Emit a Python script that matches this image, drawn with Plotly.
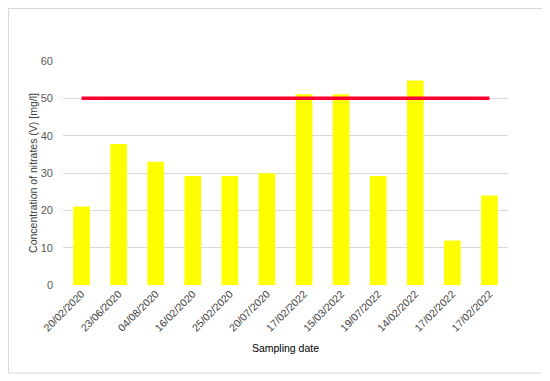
import plotly.graph_objects as go

dates = ["20/02/2020", "23/06/2020", "04/08/2020", "16/02/2020", "25/02/2020", "20/07/2020",
         "17/02/2022", "15/03/2022", "19/07/2022", "14/02/2022", "17/02/2022", "17/02/2022"]
nitrates = [21, 37.8, 33, 29.2, 29.2, 29.9, 51.1, 51.1, 29.2, 54.8, 11.9, 24]
limit = [50] * len(dates)

x_idx = list(range(len(dates)))

fig = go.Figure()
fig.add_trace(go.Bar(x=x_idx, y=nitrates, marker=dict(color="#FFFF00", line=dict(width=0)),
                     width=0.45, showlegend=False))
fig.add_trace(go.Scatter(x=x_idx, y=limit, mode="lines", line=dict(color="#FF0033", width=3.5),
                         showlegend=False))

# page is offset by the browser's 8px body margin
L, R, T, B = 55, 42, 53, 96
W, H = 542, 373
pw, ph = W - L - R, H - T - B

fig.update_layout(
    width=W, height=H,
    margin=dict(l=L, r=R, t=T, b=B),
    paper_bgcolor="white", plot_bgcolor="white",
    font=dict(family="Liberation Sans", color="#595959", size=11),
    bargap=0.55,
    xaxis=dict(tickmode="array", tickvals=x_idx, ticktext=dates, tickangle=-45,
               range=[-0.5, len(dates) - 0.5], showgrid=False, ticks="", automargin=False,
               tickfont=dict(size=10.5, color="#404040"),
               title=dict(text="Sampling date", font=dict(size=10.5, color="#000000"), standoff=12),
               showline=False, zeroline=False),
    yaxis=dict(range=[0, 60], tickvals=[0, 10, 20, 30, 40, 50, 60], showgrid=True,
               gridcolor="#D9D9D9", gridwidth=1, zeroline=False, ticks="", ticklen=0,
               automargin=False, ticklabelstandoff=9,
               tickfont=dict(size=11, color="#595959"),
               title=dict(text="Concentration of nitrates (V) [mg/l]",
                          font=dict(size=10.5, color="#404040"), standoff=1)),
    shapes=[dict(type="rect", xref="paper", yref="paper",
                 x0=(0.5 - L) / pw, x1=(535 - L) / pw,
                 y0=(T + ph - 365) / ph, y1=(T + ph - 0.5) / ph,
                 line=dict(color="#D9D9D9", width=1), fillcolor="rgba(0,0,0,0)", layer="below")],
)

fig.write_html("out.html")
